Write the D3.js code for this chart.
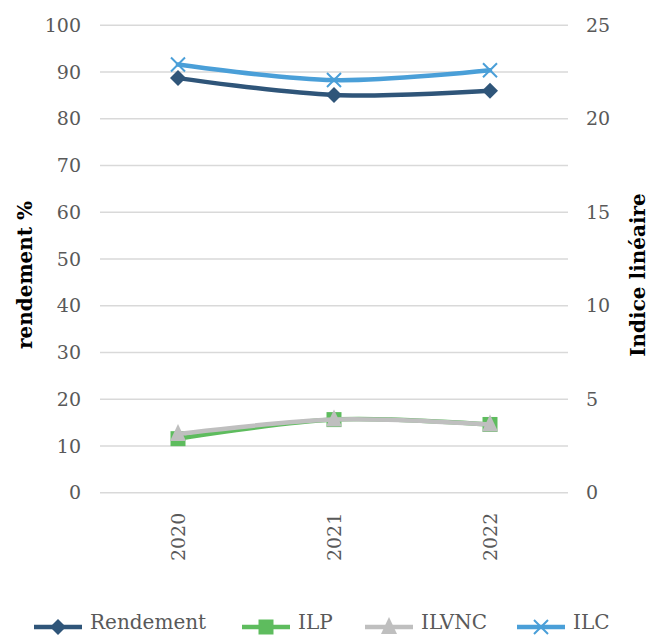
<!DOCTYPE html>
<html>
<head>
<meta charset="utf-8">
<script src="https://cdn.jsdelivr.net/npm/d3@7"></script>
<style>
  body { margin: 0; background: #fff; }
  text { font-family: "DejaVu Serif", serif; fill: #595959; }
</style>
</head>
<body>
<div id="chart"></div>
<script>
var years = ["2020", "2021", "2022"];
var rendement = [88.7, 85.1, 86.0];
var ilp = [2.89, 3.91, 3.65];
var ilvnc = [3.14, 3.91, 3.65];
var ilc = [22.9, 22.07, 22.6];
var leftTicks = [0, 10, 20, 30, 40, 50, 60, 70, 80, 90, 100];
var rightTicks = [0, 5, 10, 15, 20, 25];

var svgWidth = 649,
	svgHeight = 637;

var x = d3.scaleBand()
	.domain(years)
	.range([100, 568]);

var yLeft = d3.scaleLinear()
	.domain([0, 100])
	.range([492.7, 25.3]);

var yRight = d3.scaleLinear()
	.domain([0, 25])
	.range([492.7, 25.3]);

var svg = d3.select('#chart')
	.append('svg')
		.attr('width', svgWidth)
		.attr('height', svgHeight);

// gridlines
svg.append('g')
	.selectAll('line').data(leftTicks)
	.enter().append('line')
		.attr('x1', 100)
		.attr('x2', 568)
		.attr('y1', function (d) { return yLeft(d); })
		.attr('y2', function (d) { return yLeft(d); })
		.attr('stroke', '#d9d9d9')
		.attr('stroke-width', 1.5);

// left axis
var leftAxis = svg.append('g')
	.attr('transform', 'translate(100,0)')
	.call(d3.axisLeft(yLeft).tickValues(leftTicks).tickSize(0).tickPadding(19));
leftAxis.select('.domain').remove();
leftAxis.selectAll('text').style('font-size', '19px').attr('fill', '#595959').style('font-family', '"DejaVu Serif", serif');

// right axis
var rightAxis = svg.append('g')
	.attr('transform', 'translate(568,0)')
	.call(d3.axisRight(yRight).tickValues(rightTicks).tickSize(0).tickPadding(18));
rightAxis.select('.domain').remove();
rightAxis.selectAll('text').style('font-size', '19px').attr('fill', '#595959').style('font-family', '"DejaVu Serif", serif');

// x axis labels
var xAxis = svg.append('g')
	.attr('transform', 'translate(0,492.7)')
	.call(d3.axisBottom(x).tickSize(0).tickPadding(0));
xAxis.select('.domain').remove();
xAxis.selectAll('text')
	.style('font-size', '19px')
	.style('font-family', '"DejaVu Serif", serif')
	.attr('fill', '#595959')
	.attr('transform', 'rotate(-90)')
	.attr('text-anchor', 'end')
	.attr('dy', '0.35em')
	.attr('x', -20)
	.attr('y', 0);

// axis titles
svg.append('text')
	.attr('transform', 'translate(32,275) rotate(-90)')
	.attr('text-anchor', 'middle')
	.style('font-size', '20px')
	.style('font-weight', 'bold')
	.style('fill', '#000')
	.text('rendement %');

svg.append('text')
	.attr('transform', 'translate(645,275) rotate(-90)')
	.attr('text-anchor', 'middle')
	.style('font-size', '20px')
	.style('font-weight', 'bold')
	.style('fill', '#000')
	.text('Indice linéaire');

var cx = function (d, i) { return x(years[i]) + x.bandwidth() / 2; };

var series = [
	{ name: 'Rendement', values: rendement, scale: yLeft, color: '#2f5579', marker: 'diamond' },
	{ name: 'ILP', values: ilp, scale: yRight, color: '#5ebc5e', marker: 'square' },
	{ name: 'ILVNC', values: ilvnc, scale: yRight, color: '#bfbfbf', marker: 'triangle' },
	{ name: 'ILC', values: ilc, scale: yRight, color: '#4a9fd8', marker: 'cross' }
];

function markerPath(type) {
	if (type === 'diamond') return 'M0,-8L8,0L0,8L-8,0Z';
	if (type === 'square') return 'M-7.5,-7.5H7.5V7.5H-7.5Z';
	if (type === 'triangle') return 'M0,-10L8,7H-8Z';
	return 'M-7,-7L7,7M-7,7L7,-7';
}

function drawMarker(g, type, color) {
	var p = g.append('path').attr('d', markerPath(type));
	if (type === 'cross') {
		p.attr('fill', 'none').attr('stroke', color).attr('stroke-width', 2);
	} else {
		p.attr('fill', color).attr('stroke', 'none');
	}
}

var line = d3.line().curve(d3.curveCardinal.tension(0));

// draw order: lines then markers for each series
series.forEach(function (s) {
	var pts = s.values.map(function (v, i) { return [cx(v, i), s.scale(v)]; });
	svg.append('path')
		.attr('d', line(pts))
		.attr('fill', 'none')
		.attr('stroke', s.color)
		.attr('stroke-width', 4.5)
		.attr('stroke-linecap', 'round');
	pts.forEach(function (p) {
		var g = svg.append('g').attr('transform', 'translate(' + p[0] + ',' + p[1] + ')');
		drawMarker(g, s.marker, s.color);
	});
});

// legend
var legendX = [34, 242, 365, 517];
series.forEach(function (s, i) {
	var g = svg.append('g').attr('transform', 'translate(' + legendX[i] + ',627)');
	g.append('line')
		.attr('x1', 0).attr('x2', 48)
		.attr('y1', 0).attr('y2', 0)
		.attr('stroke', s.color)
		.attr('stroke-width', 4.5);
	var m = g.append('g').attr('transform', 'translate(24,0)');
	drawMarker(m, s.marker, s.color);
	g.append('text')
		.attr('x', 56)
		.attr('y', 0)
		.attr('dy', '0.1em')
		.style('font-size', '20px')
		.text(s.name);
});
</script>
</body>
</html>
